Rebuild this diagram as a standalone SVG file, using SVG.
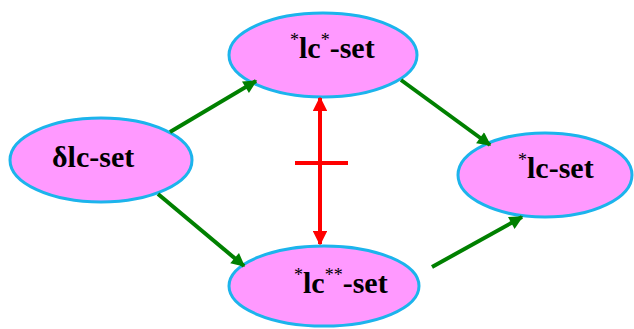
<svg xmlns="http://www.w3.org/2000/svg" width="634" height="329" viewBox="0 0 634 329">
<defs>
<style>
.n{fill:#ff99ff;stroke:#1cb4ec;stroke-width:3}
.t{font-family:"Liberation Serif","Times New Roman",serif;font-weight:bold;font-size:30px;fill:#000}
.s{font-family:"Liberation Serif","Times New Roman",serif;font-weight:normal;font-size:18px;fill:#000}
.g{stroke:#008000;stroke-width:4;fill:none}
.r{stroke:#ff0000;stroke-width:4;fill:none}
</style>
<marker id="ag" viewBox="0 0 10 10" refX="9" refY="5" markerWidth="4.2" markerHeight="3.4" orient="auto" markerUnits="strokeWidth"><path d="M0,0 L10,5 L0,10 z" fill="#008000"/></marker>
<marker id="ar" viewBox="0 0 10 10" refX="9" refY="5" markerWidth="3.6" markerHeight="3.6" orient="auto-start-reverse" markerUnits="strokeWidth"><path d="M0,0 L10,5 L0,10 z" fill="#ff0000"/></marker>
</defs>
<g id="n-top">
<ellipse class="n" cx="323" cy="55" rx="94" ry="42"/>
<text class="t"><tspan class="s" x="290" y="46">*</tspan><tspan x="299" y="58">lc</tspan><tspan class="s" dy="-12">*</tspan><tspan dy="12">-set</tspan></text>
</g>
<g id="n-left">
<ellipse class="n" cx="101" cy="160" rx="91" ry="42"/>
<text class="t" x="52" y="167">δlc-set</text>
</g>
<g id="n-right">
<ellipse class="n" cx="545" cy="175" rx="87" ry="42"/>
<text class="t"><tspan class="s" x="518" y="166">*</tspan><tspan x="527" y="178">lc-set</tspan></text>
</g>
<g id="n-bottom">
<ellipse class="n" cx="324" cy="286" rx="95" ry="40"/>
<text class="t"><tspan class="s" x="294" y="281">*</tspan><tspan x="303" y="293">lc</tspan><tspan class="s" dy="-12">**</tspan><tspan dy="12">-set</tspan></text>
</g>
<g id="connectors">
<line class="g" x1="170" y1="132" x2="256" y2="81" marker-end="url(#ag)"/>
<line class="g" x1="158" y1="194" x2="244" y2="266" marker-end="url(#ag)"/>
<line class="g" x1="401" y1="80" x2="490" y2="145" marker-end="url(#ag)"/>
<line class="g" x1="432" y1="267" x2="522" y2="217" marker-end="url(#ag)"/>
<line class="r" x1="320" y1="98" x2="320" y2="244" marker-start="url(#ar)" marker-end="url(#ar)"/>
<line class="r" x1="295" y1="163" x2="348" y2="163"/>
</g>
</svg>
